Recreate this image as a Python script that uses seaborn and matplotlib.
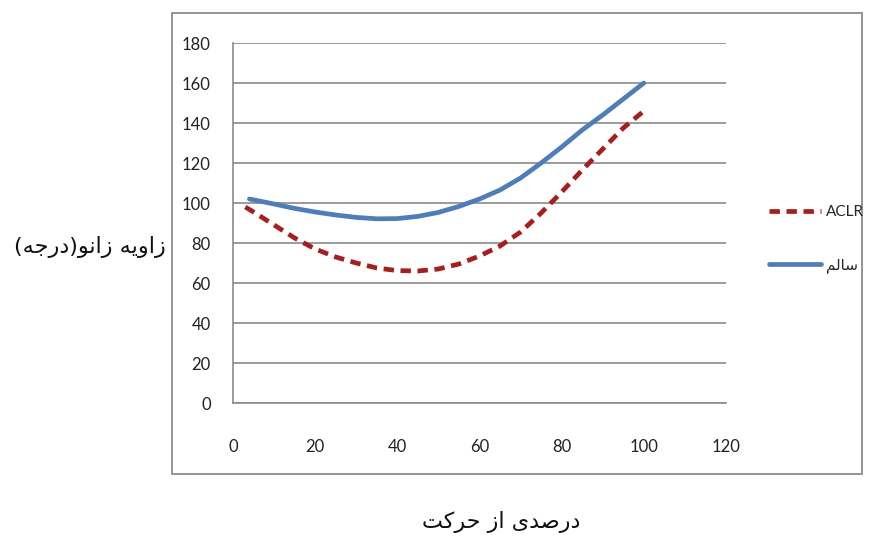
import matplotlib
matplotlib.use("Agg")
import matplotlib.pyplot as plt
from matplotlib.patches import Rectangle
from matplotlib.lines import Line2D
import pandas as pd
import seaborn as sns

# ---- data -------------------------------------------------------------
healthy_x = [4, 10, 15, 20, 25, 30, 35, 40, 45, 50, 55, 60, 65, 70, 75, 80, 85, 90, 95, 100]
healthy_y = [102, 99.5, 97.3, 95.5, 94, 92.8, 92.1, 92.2, 93.3, 95.3, 98.3, 102, 106.5,
             112.5, 120, 128, 136.5, 144, 152, 160]
aclr_x = [3, 5, 10, 15, 20, 25, 30, 35, 40, 45, 50, 55, 60, 65, 70, 75, 80, 85, 90, 95, 100]
aclr_y = [98, 95.5, 89, 82.5, 77, 73, 70, 67.5, 66.2, 66, 67, 69.5, 73.5, 78.5, 85.5,
          95, 105.5, 116.5, 127, 137.5, 146]

series_names = ["ACLR", "سالم"]
x_ticks = [0, 20, 40, 60, 80, 100, 120]
y_ticks = [0, 20, 40, 60, 80, 100, 120, 140, 160, 180]
y_title = "زاویه زانو(درجه)"
x_title = "درصدی از حرکت"

# ---- minimal Persian shaping (contextual forms + right-to-left order) ----
# forms: isolated, final, initial, medial
FORMS = {
    "ا": ("\uFE8D", "\uFE8E", None, None),
    "د": ("\uFEA9", "\uFEAA", None, None),
    "ر": ("\uFEAD", "\uFEAE", None, None),
    "ز": ("\uFEAF", "\uFEB0", None, None),
    "و": ("\uFEED", "\uFEEE", None, None),
    "ه": ("\uFEE9", "\uFEEA", "\uFEEB", "\uFEEC"),
    "ی": ("\uFBFC", "\uFBFD", "\uFBFE", "\uFBFF"),
    "ن": ("\uFEE5", "\uFEE6", "\uFEE7", "\uFEE8"),
    "ج": ("\uFE9D", "\uFE9E", "\uFE9F", "\uFEA0"),
    "ص": ("\uFEB9", "\uFEBA", "\uFEBB", "\uFEBC"),
    "ح": ("\uFEA1", "\uFEA2", "\uFEA3", "\uFEA4"),
    "ک": ("\uFB8E", "\uFB8F", "\uFB90", "\uFB91"),
    "ت": ("\uFE95", "\uFE96", "\uFE97", "\uFE98"),
    "س": ("\uFEB1", "\uFEB2", "\uFEB3", "\uFEB4"),
    "ل": ("\uFEDD", "\uFEDE", "\uFEDF", "\uFEE0"),
    "م": ("\uFEE1", "\uFEE2", "\uFEE3", "\uFEE4"),
}
MIRROR = {"(": ")", ")": "("}


def dual(ch):
    return ch in FORMS and FORMS[ch][2] is not None


def rtl(text):
    out = []
    for i, ch in enumerate(text):
        if ch not in FORMS:
            out.append(MIRROR.get(ch, ch))
            continue
        prev_c = i > 0 and dual(text[i - 1])
        next_c = dual(ch) and i + 1 < len(text) and text[i + 1] in FORMS
        iso, fin, ini, med = FORMS[ch]
        if prev_c and next_c:
            out.append(med)
        elif prev_c:
            out.append(fin)
        elif next_c:
            out.append(ini)
        else:
            out.append(iso)
    return "".join(reversed(out))


# ---- figure -----------------------------------------------------------
W, H = 874, 541
fig = plt.figure(figsize=(W / 100, H / 100), dpi=100)
sns.set_style("white")
fig.patch.set_facecolor("white")

grid_c = "#8A8A8A"
red = "#A51F1F"
blue = "#4F7DB8"

ax = fig.add_axes([233 / W, 1 - 403 / H, (726 - 233) / W, (403 - 43) / H])

df = pd.concat([
    pd.DataFrame({"x": aclr_x, "y": aclr_y, "grp": series_names[0]}),
    pd.DataFrame({"x": healthy_x, "y": healthy_y, "grp": series_names[1]}),
])
sns.lineplot(data=df[df.grp == series_names[0]], x="x", y="y", ax=ax, color=red,
             lw=3.4, linestyle=(0, (2.2, 1.4)), sort=False, legend=False)
sns.lineplot(data=df[df.grp == series_names[1]], x="x", y="y", ax=ax, color=blue,
             lw=3.4, sort=False, legend=False)

ax.set_xlim(0, 120)
ax.set_ylim(0, 180)
ax.set_xticks(x_ticks)
ax.set_yticks(y_ticks)
ax.set_xlabel("")
ax.set_ylabel("")
ax.grid(axis="y", color=grid_c, lw=1.2)
ax.grid(axis="x", visible=False)
ax.set_axisbelow(True)
for s in ["top", "right"]:
    ax.spines[s].set_visible(False)
for s in ["left", "bottom"]:
    ax.spines[s].set_color(grid_c)
    ax.spines[s].set_linewidth(1.2)
ax.tick_params(axis="both", direction="out", length=6, width=1.2, color=grid_c,
               labelsize=12, labelcolor="#222222")
ax.tick_params(axis="x", pad=20)
ax.tick_params(axis="y", pad=10)
for lab in ax.get_xticklabels() + ax.get_yticklabels():
    lab.set_fontfamily("Lato")

# outer chart border
fig.patches.append(Rectangle((172 / W, 1 - 474 / H), 690 / W, 461 / H,
                             transform=fig.transFigure, fill=False,
                             ec="#8C8C8C", lw=1.3))

# legend
handles = [Line2D([], [], color=red, lw=3.4, linestyle=(0, (2.2, 1.4))),
           Line2D([], [], color=blue, lw=3.4)]
labels = [series_names[0], rtl(series_names[1])]
leg = fig.legend(handles, labels, loc="upper left",
                 bbox_to_anchor=(769 / W, 1 - 205 / H), bbox_transform=fig.transFigure,
                 frameon=False, fontsize=11, handlelength=3.4, handletextpad=0.35,
                 labelspacing=2.5, borderpad=0, borderaxespad=0)
leg.get_texts()[0].set_fontfamily("Lato")
leg.get_texts()[1].set_fontfamily("DejaVu Sans")

# axis titles
fig.text(90 / W, 1 - 247 / H, rtl(y_title), ha="center", va="center",
         fontsize=16, family="DejaVu Sans", color="#111111")
fig.text(501 / W, 1 - 522 / H, rtl(x_title), ha="center", va="center",
         fontsize=16, family="DejaVu Sans", color="#111111")

fig.savefig("out.png", dpi=100, facecolor="white")
